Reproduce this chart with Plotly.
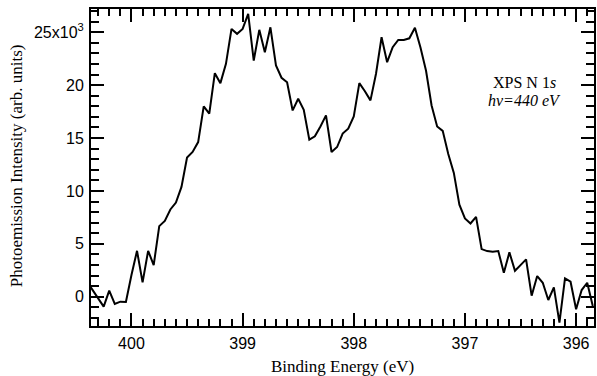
import plotly.graph_objects as go

# Binding energy (eV) and intensity (counts)
energy = [400.40, 400.35, 400.30, 400.25, 400.20, 400.15, 400.10, 400.05, 400.00,
          399.95, 399.90, 399.85, 399.80, 399.75, 399.70, 399.65, 399.60, 399.55,
          399.50, 399.45, 399.40, 399.35, 399.30, 399.25, 399.20, 399.15, 399.10,
          399.05, 399.00, 398.95, 398.90, 398.85, 398.80, 398.75, 398.70, 398.65,
          398.60, 398.55, 398.50, 398.45, 398.40, 398.35, 398.30, 398.25, 398.20,
          398.15, 398.10, 398.05, 398.00, 397.95, 397.90, 397.85, 397.80, 397.75,
          397.70, 397.65, 397.60, 397.55, 397.50, 397.45, 397.40, 397.35, 397.30,
          397.25, 397.20, 397.15, 397.10, 397.05, 397.00, 396.95, 396.90, 396.85,
          396.80, 396.75, 396.70, 396.65, 396.60, 396.55, 396.50, 396.45, 396.40,
          396.35, 396.30, 396.25, 396.20, 396.15, 396.10, 396.05, 396.00, 395.95,
          395.90, 395.85]
intensity = [1430, 650, -150, -940, 570, -690, -470, -500, 2050,
             4340, 1360, 4340, 2990, 6670, 7170, 8250, 8900, 10380,
             13150, 13680, 14620, 17990, 17300, 21130, 20190, 22020, 25320,
             24850, 25320, 26740, 22330, 25230, 23110, 25470, 21860, 20700,
             20280, 17610, 18720, 17680, 14850, 15160, 16100, 17140, 13680,
             14150, 15420, 15890, 17050, 20190, 19430, 18560, 21080, 24530,
             22170, 23590, 24280, 24280, 24430, 25420, 23560, 21360, 18080,
             16100, 15680, 13500, 11700, 8700, 7400, 6920, 7550, 4500,
             4310, 4250, 4310, 2260, 4190, 2450, 2990, 3530, 94,
             1950, 1320, -310, 890, -2450, 1740, 1420, -1190, 630,
             1320, -880]

y_tickvals = [0, 5000, 10000, 15000, 20000, 25000]
y_ticktext = ["0", "5", "10", "15", "20", "25x10<sup>3</sup>"]
x_tickvals = [400, 399, 398, 397, 396]

fig = go.Figure()
fig.add_trace(go.Scatter(x=energy, y=intensity, mode="lines",
                         line=dict(color="black", width=2), showlegend=False))

tickfont = dict(family="Liberation Sans, Arial, sans-serif", size=16, color="black")
serif = "Liberation Serif, Times New Roman, serif"

fig.update_xaxes(range=[400.364, 395.839], tickvals=x_tickvals,
                 ticks="inside", ticklen=13, tickwidth=1.5, tickcolor="black",
                 minor=dict(dtick=0.1, ticks="inside", ticklen=7, tickwidth=1.5, tickcolor="black"),
                 showline=True, linecolor="black", linewidth=2, mirror="ticks",
                 showgrid=False, zeroline=False, tickfont=tickfont, ticklabelstandoff=2)
fig.update_yaxes(range=[-2770, 27200], tickvals=y_tickvals, ticktext=y_ticktext,
                 ticks="inside", ticklen=13, tickwidth=1.5, tickcolor="black",
                 minor=dict(dtick=1000, ticks="inside", ticklen=8, tickwidth=1.5, tickcolor="black"),
                 showline=True, linecolor="black", linewidth=2, mirror="ticks",
                 showgrid=False, zeroline=False, tickfont=tickfont, ticklabelstandoff=2)

fig.add_annotation(xref="paper", yref="paper", x=0.5, y=(326 - 366) / 317, yanchor="middle",
                   xanchor="center", showarrow=False, text="Binding Energy (eV)",
                   font=dict(family=serif, size=17, color="black"))
fig.add_annotation(xref="paper", yref="paper", x=(16 - 91) / 505, y=(326 - 166) / 317,
                   xanchor="center", yanchor="middle", textangle=-90, showarrow=False,
                   text="Photoemission Intensity (arb. units)",
                   font=dict(family=serif, size=17, color="black"))
fig.add_annotation(xref="paper", yref="paper", x=(526 - 91) / 505, y=(326 - 82) / 317,
                   xanchor="center", yanchor="middle", showarrow=False,
                   text="XPS N 1<i>s</i>", font=dict(family=serif, size=16, color="black"))
fig.add_annotation(xref="paper", yref="paper", x=(526 - 91) / 505, y=(326 - 100) / 317,
                   xanchor="center", yanchor="middle", showarrow=False,
                   text="<i>hν=440 eV</i>", font=dict(family=serif, size=16, color="black"))

fig.update_layout(width=597, height=376, margin=dict(l=91, r=1, t=9, b=50),
                  paper_bgcolor="white", plot_bgcolor="white")
fig.write_html("out.html")
